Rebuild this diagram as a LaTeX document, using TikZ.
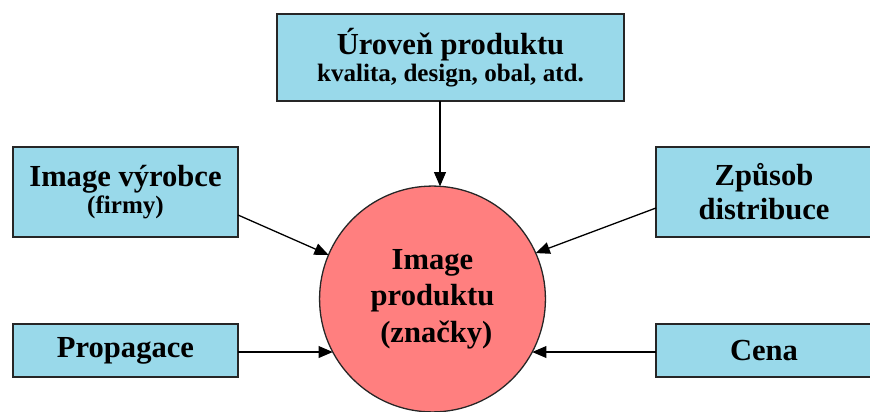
\documentclass[tikz,border=0pt]{standalone}
\usepackage{fontspec}
\setmainfont{Liberation Serif}
\usetikzlibrary{arrows.meta,calc}
\definecolor{boxblue}{RGB}{153,217,234}
\definecolor{circred}{RGB}{255,127,127}
\tikzset{
  box/.style={draw=black!85, line width=1.3pt, fill=boxblue, align=center, inner sep=0pt, outer sep=0pt,
    font=\bfseries\fontsize{26}{29}\selectfont},
  arr/.style={line width=1.1pt, -{Triangle[length=12pt,width=10pt]}},
}
\begin{document}
\begin{tikzpicture}[x=0.85pt,y=-0.85pt]
\useasboundingbox (0,0) rectangle (870,412);
\node[box, minimum width=295pt, minimum height=74pt, font=\bfseries\fontsize{26}{24.5}\selectfont] (top) at (450.5,57.5)
  {Úroveň produktu\\[-1pt]{\fontsize{21.3}{24.5}\selectfont kvalita, design, obal, atd.}};
\node[box, minimum width=191.25pt, minimum height=76.5pt, font=\bfseries\fontsize{26}{23}\selectfont] (l1) at (125.5,192)
  {Image výrobce\\{\fontsize{21.3}{23}\selectfont (firmy)}};
\node[box, minimum width=183.6pt, minimum height=76.5pt] (r1) at (764,192) {Způsob\\distribuce};
\node[box, minimum width=191.25pt, minimum height=45pt] (l2) at (125.5,350.5) {Propagace};
\node[box, minimum width=183.6pt, minimum height=45pt] (r2) at (764,350.5) {Cena};
\node[circle, draw=black!85, line width=1.1pt, fill=circred, minimum size=192pt, inner sep=0pt, outer sep=0pt,
  align=center, font=\bfseries\fontsize{26}{31}\selectfont] (c) at (432.5,299) {Image\\produktu\\\ (značky)};
\draw[arr] ($(top.south)+(-10.5,0)$) -- ($(c.north)+(7.5,0.3)$);
\draw[arr] ($(l1.east)+(0,23)$) -- (c.157.6);
\draw[arr] ($(r1.west)+(0,16)$) -- (c.24);
\draw[arr] (l2.east |- c.208) -- (c.208);
\draw[arr] (r2.west |- c.332) -- (c.332);
\end{tikzpicture}
\end{document}
